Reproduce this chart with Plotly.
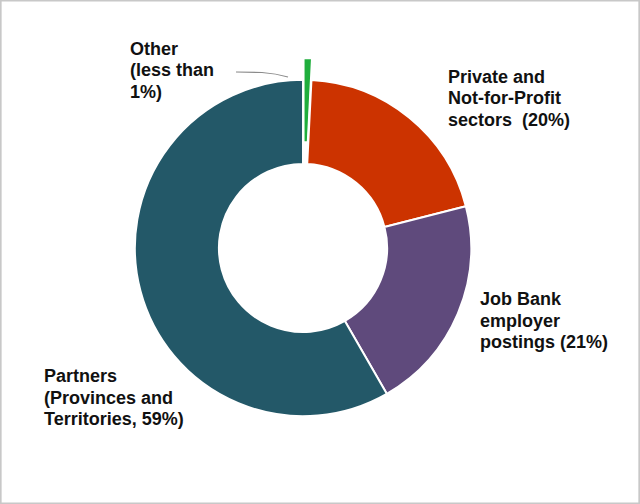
import plotly.graph_objects as go

# slices, clockwise from 12 o'clock
labels = ["Other", "Private and Not-for-Profit sectors", "Job Bank employer postings",
          "Partners (Provinces and Territories)"]
values = [0.8, 20.2, 20.7, 58.3]
colors = ["#1fae3c", "#cc3300", "#5f4a7c", "#235868"]
pulls = [0.13, 0, 0, 0]

label_lines = [
    ["Other", "(less than", "1%)"],
    ["Private and", "Not-for-Profit", "sectors  (20%)"],
    ["Job Bank", "employer", "postings (21%)"],
    ["Partners", "(Provinces and", "Territories, 59%)"],
]

W, H = 640, 504
cx, cy, half = 303, 248, 190

fig = go.Figure(go.Pie(
    labels=labels,
    values=values,
    hole=0.5,
    sort=False,
    direction="clockwise",
    rotation=0,
    pull=pulls,
    textinfo="none",
    marker=dict(colors=colors, line=dict(color="white", width=2)),
    domain=dict(x=[(cx - half) / W, (cx + half) / W],
                y=[(H - cy - half) / H, (H - cy + half) / H]),
))

# label positions in pixels (left edge, middle of first line)
label_pos = [(128, 49), (446, 77), (478, 299), (42, 376)]
line_gap = 21.5
for lines, (px_, py_) in zip(label_lines, label_pos):
    for i, ln in enumerate(lines):
        fig.add_annotation(
            text=ln, x=px_ / W, y=1 - (py_ + i * line_gap) / H, xref="paper", yref="paper",
            xanchor="left", yanchor="middle", align="left", showarrow=False,
            font=dict(family="Liberation Sans, Arial", size=18, color="#111111", weight="bold"),
        )

# leader line for "Other"
fig.add_shape(
    type="path", xref="paper", yref="paper",
    path=f"M {236/W},{1-72/H} L {262/W},{1-72.5/H} Q {276/W},{1-73.5/H} {288/W},{1-77/H}",
    line=dict(color="#8a8a8a", width=1.2),
)

# outer frame
fig.add_shape(type="rect", xref="paper", yref="paper", x0=0.001, y0=0.001, x1=0.999, y1=0.999,
              line=dict(color="#c8c8c8", width=2))

fig.update_layout(
    width=W, height=H,
    margin=dict(l=0, r=0, t=0, b=0),
    showlegend=False,
    paper_bgcolor="white",
    font_family="Liberation Sans",
)

fig.write_html("out.html", config={"displayModeBar": False},
               post_script="document.body.style.margin='0';")
